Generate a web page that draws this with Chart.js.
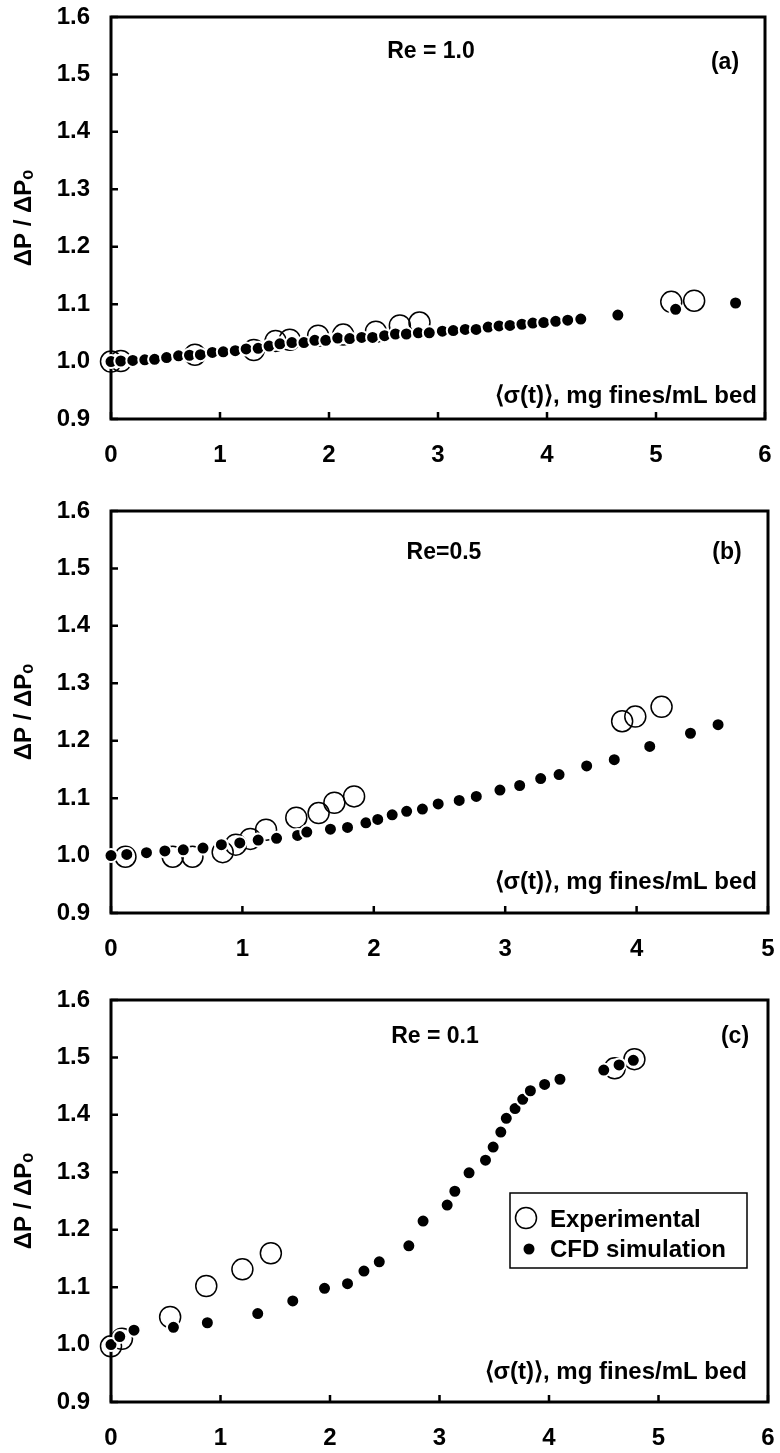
<!DOCTYPE html>
<html>
<head>
<meta charset="utf-8">
<script src="https://cdn.jsdelivr.net/npm/chart.js@4.4.1/dist/chart.umd.min.js"></script>
<style>
  html, body { margin: 0; padding: 0; background: #fff; }
  body { width: 780px; height: 1453px; position: relative; overflow: hidden; }
  canvas { position: absolute; left: 0; }
</style>
</head>
<body>
<canvas id="chartA" width="780" height="480" style="top:0px"></canvas>
<canvas id="chartB" width="780" height="485" style="top:480px"></canvas>
<canvas id="chartC" width="780" height="488" style="top:965px"></canvas>
<script>
const FONT = '"Liberation Sans", Arial, Helvetica, sans-serif';

// shared axis ticks
const yTicks = [0.9, 1.0, 1.1, 1.2, 1.3, 1.4, 1.5, 1.6];
const xTicksA = [0, 1, 2, 3, 4, 5, 6];
const xTicksB = [0, 1, 2, 3, 4, 5];
const xTicksC = [0, 1, 2, 3, 4, 5, 6];

// (a) Re = 1.0
const expAx = [0.00, 0.09, 0.77, 1.31, 1.51, 1.64, 1.90, 2.13, 2.43, 2.65, 2.83, 5.14, 5.35];
const expAy = [1.000, 1.001, 1.012, 1.020, 1.036, 1.038, 1.045, 1.047, 1.052, 1.063, 1.068, 1.104, 1.106];
const cfdAx = [0, 0.09, 0.20, 0.31, 0.40, 0.51, 0.62, 0.72, 0.82, 0.93, 1.03, 1.14, 1.24, 1.35, 1.45,
  1.55, 1.66, 1.77, 1.87, 1.97, 2.08, 2.19, 2.30, 2.40, 2.51, 2.61, 2.71, 2.82, 2.92, 3.04,
  3.14, 3.25, 3.35, 3.46, 3.56, 3.66, 3.77, 3.87, 3.97, 4.08, 4.19, 4.31, 4.65, 5.18, 5.73];
const cfdAy = [1.000, 1.001, 1.002, 1.003, 1.004, 1.007, 1.010, 1.011, 1.012, 1.016, 1.017, 1.019, 1.022, 1.023, 1.027,
  1.031, 1.033, 1.033, 1.037, 1.037, 1.041, 1.040, 1.042, 1.042, 1.045, 1.048, 1.048, 1.050, 1.050, 1.053,
  1.054, 1.056, 1.056, 1.060, 1.062, 1.063, 1.065, 1.067, 1.068, 1.070, 1.072, 1.074, 1.081, 1.091, 1.102];

// (b) Re = 0.5
const expBx = [0.11, 0.47, 0.62, 0.85, 0.95, 1.06, 1.18, 1.41, 1.58, 1.70, 1.85, 3.89, 3.99, 4.19];
const expBy = [0.998, 0.998, 0.998, 1.006, 1.019, 1.029, 1.045, 1.066, 1.074, 1.092, 1.103, 1.234, 1.242, 1.259];
const cfdBx = [0, 0.12, 0.27, 0.41, 0.55, 0.70, 0.84, 0.98, 1.12, 1.26, 1.42, 1.49, 1.67, 1.80, 1.94,
  2.03, 2.14, 2.25, 2.37, 2.49, 2.65, 2.78, 2.96, 3.11, 3.27, 3.41, 3.62, 3.83, 4.10, 4.41, 4.62];
const cfdBy = [1.000, 1.002, 1.005, 1.008, 1.010, 1.013, 1.019, 1.022, 1.027, 1.030, 1.035, 1.041, 1.046, 1.049, 1.057,
  1.063, 1.071, 1.077, 1.081, 1.090, 1.096, 1.103, 1.114, 1.122, 1.134, 1.141, 1.156, 1.167, 1.190, 1.213, 1.228];

// (c) Re = 0.1
const expCx = [0, 0.10, 0.54, 0.87, 1.20, 1.46, 4.60, 4.78];
const expCy = [0.997, 1.010, 1.048, 1.102, 1.131, 1.159, 1.481, 1.497];
const cfdCx = [0, 0.08, 0.21, 0.57, 0.88, 1.34, 1.66, 1.95, 2.16, 2.31, 2.45, 2.72, 2.85, 3.07,
  3.14, 3.27, 3.42, 3.49, 3.56, 3.61, 3.69, 3.76, 3.83, 3.96, 4.10, 4.50, 4.64, 4.77];
const cfdCy = [1.000, 1.014, 1.025, 1.030, 1.038, 1.054, 1.076, 1.098, 1.106, 1.128, 1.144, 1.172, 1.215, 1.243,
  1.267, 1.299, 1.321, 1.344, 1.370, 1.394, 1.411, 1.427, 1.442, 1.453, 1.462, 1.478, 1.487, 1.495];

const xTitle = '\u27E8\u03C3(t)\u27E9, mg fines/mL bed';
const yTitle = '\u0394P / \u0394P\u2092';

function pts(xs, ys) {
  return xs.map((x, i) => ({ x: x, y: ys[i] }));
}

// frame, inward ticks, in-plot labels and the legend box
const panelDecor = {
  id: 'panelDecor',
  beforeDatasetsDraw(chart, args, o) {
    const { ctx, chartArea: a, scales } = chart;
    ctx.save();
    ctx.strokeStyle = '#000';
    ctx.lineWidth = 2.5;
    ctx.beginPath();
    scales.x.ticks.forEach(t => {
      const px = scales.x.getPixelForValue(t.value);
      ctx.moveTo(px, a.bottom);
      ctx.lineTo(px, a.bottom - 7);
    });
    scales.y.ticks.forEach(t => {
      const py = scales.y.getPixelForValue(t.value);
      ctx.moveTo(a.left, py);
      ctx.lineTo(a.left + 7, py);
    });
    ctx.stroke();
    ctx.lineWidth = 3;
    ctx.strokeRect(a.left, a.top, a.right - a.left, a.bottom - a.top);
    ctx.restore();
  },
  afterDatasetsDraw(chart, args, o) {
    const ctx = chart.ctx;
    ctx.save();
    ctx.fillStyle = '#000';
    ctx.textBaseline = 'middle';
    ctx.font = 'bold 23px ' + FONT;
    ctx.textAlign = 'center';
    ctx.fillText(o.re, o.reX, o.reY);
    ctx.fillText(o.tag, o.tagX, o.tagY);
    ctx.font = 'bold 24px ' + FONT;
    ctx.textAlign = 'right';
    ctx.fillText(xTitle, o.titleRight, o.titleY);

    if (o.legend) {
      const L = o.legend;
      ctx.fillStyle = '#fff';
      ctx.fillRect(L.x, L.y, L.w, L.h);
      ctx.strokeStyle = '#000';
      ctx.lineWidth = 1.5;
      ctx.strokeRect(L.x, L.y, L.w, L.h);
      ctx.font = 'bold 24px ' + FONT;
      ctx.textAlign = 'left';
      chart.data.datasets.forEach((ds, i) => {
        const cy = L.y + 25 + i * 30;
        const filled = ds.pointBackgroundColor === '#000';
        const cx = L.x + 16 + (filled ? 3 : 0);
        ctx.beginPath();
        if (filled) {
          ctx.arc(cx, cy + 1, 5.5, 0, Math.PI * 2);
          ctx.fillStyle = '#000';
          ctx.fill();
        } else {
          ctx.arc(cx, cy, ds.pointRadius, 0, Math.PI * 2);
          ctx.lineWidth = ds.pointBorderWidth;
          ctx.strokeStyle = '#000';
          ctx.stroke();
        }
        ctx.fillStyle = '#000';
        ctx.fillText(ds.label, L.x + 40, cy + 2);
      });
    }
    ctx.restore();
  }
};

function makePanel(id, cfg) {
  const canvas = document.getElementById(id);
  const h = canvas.height;
  const tickFont = { family: FONT, size: 24, weight: 'bold' };
  return new Chart(canvas.getContext('2d'), {
    type: 'scatter',
    data: {
      datasets: [{
        label: 'Experimental',
        data: pts(cfg.expX, cfg.expY),
        pointRadius: 10.5,
        pointBorderWidth: 1.5,
        pointBorderColor: '#000',
        pointBackgroundColor: 'rgba(255,255,255,0)',
        order: 1,
        clip: false
      }, {
        label: 'CFD simulation',
        data: pts(cfg.cfdX, cfg.cfdY),
        pointRadius: 6.5,
        pointBorderWidth: 2,
        pointBorderColor: '#fff',
        pointBackgroundColor: '#000',
        order: 0,
        clip: false
      }]
    },
    options: {
      responsive: false,
      animation: false,
      events: [],
      layout: { padding: { top: cfg.top, right: 780 - cfg.right, left: 0, bottom: 0 } },
      scales: {
        x: {
          type: 'linear',
          min: 0,
          max: cfg.xMax,
          afterBuildTicks: s => { s.ticks = cfg.xTicks.map(v => ({ value: v })); },
          afterFit: s => {
            s.height = h - cfg.bottom;
            s.paddingLeft = 0;
            s.paddingRight = 0;
          },
          grid: { display: false, drawTicks: false },
          border: { display: false },
          ticks: { padding: 22, color: '#000', font: tickFont, maxRotation: 0 }
        },
        y: {
          type: 'linear',
          min: 0.9,
          max: 1.6,
          afterBuildTicks: s => { s.ticks = yTicks.map(v => ({ value: v })); },
          afterFit: s => {
            s.width = 111;
            s.paddingTop = 0;
            s.paddingBottom = 0;
          },
          grid: { display: false, drawTicks: false },
          border: { display: false },
          ticks: { padding: 21, color: '#000', font: tickFont, callback: v => v.toFixed(1) },
          title: {
            display: true,
            text: yTitle,
            color: '#000',
            font: tickFont,
            padding: { top: 10, bottom: 0 }
          }
        }
      },
      plugins: {
        legend: { display: false },
        tooltip: { enabled: false },
        panelDecor: cfg.decor
      }
    },
    plugins: [panelDecor]
  });
}

makePanel('chartA', {
  expX: expAx, expY: expAy, cfdX: cfdAx, cfdY: cfdAy,
  xMax: 6, xTicks: xTicksA, top: 17, bottom: 419, right: 765,
  decor: { re: 'Re = 1.0', reX: 431, reY: 52, tag: '(a)', tagX: 725, tagY: 63, titleRight: 757, titleY: 396 }
});

makePanel('chartB', {
  expX: expBx, expY: expBy, cfdX: cfdBx, cfdY: cfdBy,
  xMax: 5, xTicks: xTicksB, top: 31, bottom: 433, right: 772,
  decor: { re: 'Re=0.5', reX: 444, reY: 73, tag: '(b)', tagX: 727, tagY: 73, titleRight: 757, titleY: 402 }
});

makePanel('chartC', {
  expX: expCx, expY: expCy, cfdX: cfdCx, cfdY: cfdCy,
  xMax: 6, xTicks: xTicksC, top: 35, bottom: 437, right: 771,
  decor: {
    re: 'Re = 0.1', reX: 435, reY: 72, tag: '(c)', tagX: 735, tagY: 72, titleRight: 747, titleY: 407,
    legend: { x: 510, y: 228, w: 237, h: 75 }
  }
});
</script>
</body>
</html>
